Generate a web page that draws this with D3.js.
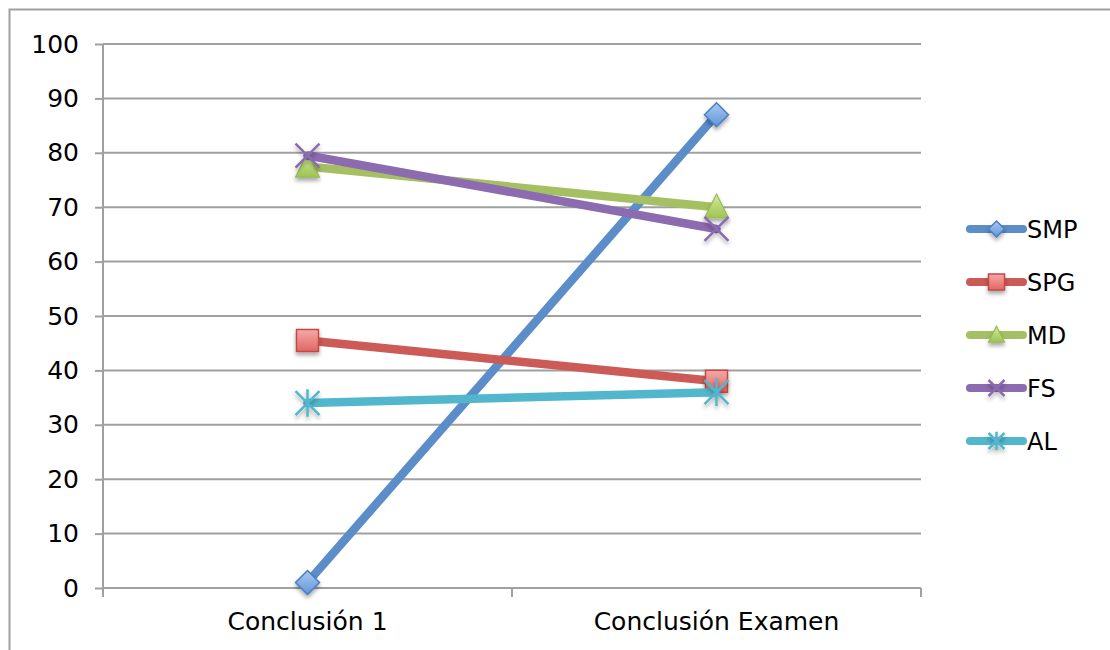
<!DOCTYPE html>
<html>
<head>
<meta charset="utf-8">
<script src="https://cdn.jsdelivr.net/npm/d3@7"></script>
<style>
  html, body { margin: 0; padding: 0; background: #fff; }
  svg { display: block; }
  text { font-family: "DejaVu Sans", sans-serif; fill: #000; }
</style>
</head>
<body>
<svg id="chart" width="1110" height="650"></svg>
<script>
// Chart data
const categories = ["Conclusión 1", "Conclusión Examen"];
const seriesNames = ["SMP", "SPG", "MD", "FS", "AL"];
const smp = [1, 87];
const spg = [45.5, 38];
const md = [77.5, 70];
const fs = [79.5, 66];
const al = [34, 36];
const yTicks = [0, 10, 20, 30, 40, 50, 60, 70, 80, 90, 100];

const seriesValues = [smp, spg, md, fs, al];
const lineColors = ["#5b8dc9", "#cc5b57", "#a5c062", "#8c6bb0", "#52b6cc"];
const fillLight = ["#a9c9f2", "#f6a9a6", "#d4eb9a", "#8c6bb0", "#52b6cc"];
const fillDark = ["#5f95d8", "#e06662", "#9dc452", "#8c6bb0", "#52b6cc"];
const markerTypes = ["diamond", "square", "triangle", "x", "star"];

const svg = d3.select("#chart");
const defs = svg.append("defs");

// soft shadow under markers
const sh = defs.append("filter").attr("id", "shadow")
  .attr("x", "-50%").attr("y", "-50%").attr("width", "200%").attr("height", "200%");
sh.append("feGaussianBlur").attr("in", "SourceAlpha").attr("stdDeviation", 2).attr("result", "b");
sh.append("feOffset").attr("in", "b").attr("dx", 0).attr("dy", 3).attr("result", "o");
sh.append("feComponentTransfer").attr("in", "o").attr("result", "s")
  .append("feFuncA").attr("type", "linear").attr("slope", 0.35);
const mg = sh.append("feMerge");
mg.append("feMergeNode").attr("in", "s");
mg.append("feMergeNode").attr("in", "SourceGraphic");

seriesNames.forEach((n, i) => {
  const g = defs.append("linearGradient").attr("id", "grad" + i)
    .attr("x1", 0).attr("y1", 0).attr("x2", 0).attr("y2", 1);
  g.append("stop").attr("offset", "0%").attr("stop-color", fillLight[i]);
  g.append("stop").attr("offset", "100%").attr("stop-color", fillDark[i]);
});

// outer frame
svg.append("rect").attr("x", 9.5).attr("y", 9.5).attr("width", 1200).attr("height", 700)
  .attr("fill", "none").attr("stroke", "#a0a0a0").attr("stroke-width", 2);

const plot = { left: 103, right: 921, top: 44, bottom: 588 };

const x = d3.scaleBand().domain(categories).range([plot.left, plot.right]);
const y = d3.scaleLinear().domain([0, 100]).range([plot.bottom, plot.top]);

// horizontal gridlines
svg.append("g").selectAll("line").data(yTicks.filter(d => d > 0)).join("line")
  .attr("x1", plot.left).attr("x2", plot.right)
  .attr("y1", d => y(d)).attr("y2", d => y(d))
  .attr("stroke", "#a0a0a0").attr("stroke-width", 2);

// y axis
const yAxis = svg.append("g").attr("transform", `translate(${plot.left},0)`)
  .call(d3.axisLeft(y).tickValues(yTicks).tickSize(8).tickPadding(16).tickFormat(d3.format("d")));
yAxis.select(".domain").attr("stroke", "#a0a0a0").attr("stroke-width", 2).attr("d", `M0,${plot.top}V${plot.bottom}`);
yAxis.selectAll(".tick line").attr("stroke", "#a0a0a0").attr("stroke-width", 2);
yAxis.selectAll(".tick text").attr("font-size", 25).attr("font-family", "DejaVu Sans, sans-serif").attr("fill", "#000");

// x axis
const xAxis = svg.append("g").attr("transform", `translate(0,${plot.bottom})`)
  .call(d3.axisBottom(x).tickSize(0).tickPadding(24));
xAxis.select(".domain").attr("stroke", "#a0a0a0").attr("stroke-width", 2).attr("d", `M${plot.left},0H${plot.right}`);
xAxis.selectAll(".tick text").attr("font-size", 25).attr("font-family", "DejaVu Sans, sans-serif").attr("fill", "#000");
// category separators
const bounds = [plot.left, ...categories.slice(1).map(c => x(c)), plot.right];
svg.append("g").selectAll("line").data(bounds).join("line")
  .attr("x1", d => d).attr("x2", d => d)
  .attr("y1", plot.bottom).attr("y2", plot.bottom + 9)
  .attr("stroke", "#a0a0a0").attr("stroke-width", 2);

function drawMarker(g, type, i, cx, cy, s) {
  const stroke = lineColors[i];
  if (type === "diamond") {
    g.append("path").attr("d", `M${cx},${cy - s}L${cx + s},${cy}L${cx},${cy + s}L${cx - s},${cy}Z`)
      .attr("fill", `url(#grad${i})`).attr("stroke", "#4a7fc0").attr("stroke-width", 1.5)
      .attr("filter", "url(#shadow)");
  } else if (type === "square") {
    g.append("rect").attr("x", cx - s).attr("y", cy - s).attr("width", 2 * s).attr("height", 2 * s)
      .attr("fill", `url(#grad${i})`).attr("stroke", "#c24a47").attr("stroke-width", 1.5)
      .attr("filter", "url(#shadow)");
  } else if (type === "triangle") {
    g.append("path").attr("d", `M${cx},${cy - s * 1.1}L${cx + s},${cy + s * 0.9}L${cx - s},${cy + s * 0.9}Z`)
      .attr("fill", `url(#grad${i})`).attr("stroke", "#9bbb59").attr("stroke-width", 1.2)
      .attr("filter", "url(#shadow)");
  } else if (type === "x") {
    g.append("path").attr("d", `M${cx - s},${cy - s}L${cx + s},${cy + s}M${cx + s},${cy - s}L${cx - s},${cy + s}`)
      .attr("stroke", stroke).attr("stroke-width", 2.5).attr("fill", "none")
      .attr("filter", "url(#shadow)");
  } else if (type === "star") {
    g.append("path").attr("d", `M${cx - s},${cy - s}L${cx + s},${cy + s}M${cx + s},${cy - s}L${cx - s},${cy + s}M${cx},${cy - s * 1.15}L${cx},${cy + s * 1.15}`)
      .attr("stroke", stroke).attr("stroke-width", 2.5).attr("fill", "none")
      .attr("filter", "url(#shadow)");
  }
}

const line = d3.line().x((d, j) => x(categories[j]) + x.bandwidth() / 2).y(d => y(d));

seriesValues.forEach((vals, i) => {
  const g = svg.append("g");
  g.append("path").datum(vals).attr("d", line)
    .attr("fill", "none").attr("stroke", lineColors[i]).attr("stroke-width", 8.5)
    .attr("stroke-linecap", "round");
  vals.forEach((v, j) => {
    const cx = x(categories[j]) + x.bandwidth() / 2;
    const size = markerTypes[i] === "square" ? 11 : 12;
    drawMarker(g, markerTypes[i], i, cx, y(v), size);
  });
});

// legend
const legend = svg.append("g");
seriesNames.forEach((n, i) => {
  const ly = 229 + i * 53;
  const g = legend.append("g");
  g.append("line").attr("x1", 970).attr("x2", 1023).attr("y1", ly).attr("y2", ly)
    .attr("stroke", lineColors[i]).attr("stroke-width", 8).attr("stroke-linecap", "round");
  drawMarker(g, markerTypes[i], i, 996.5, ly, 8);
  g.append("text").attr("x", 1027).attr("y", ly).attr("dy", "0.36em")
    .attr("font-size", 24).attr("font-family", "DejaVu Sans, sans-serif").text(n);
});
</script>
</body>
</html>
